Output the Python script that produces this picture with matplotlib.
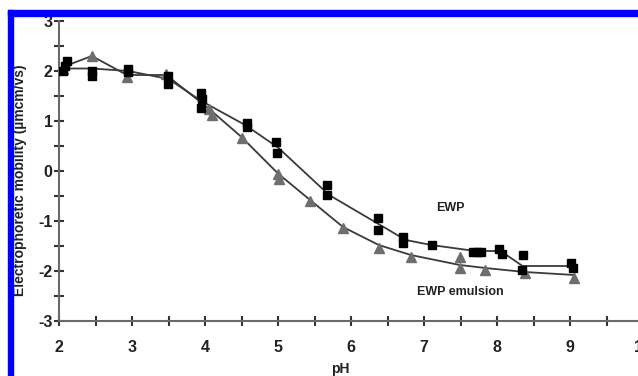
import matplotlib
matplotlib.use("Agg")
import matplotlib.pyplot as plt
from matplotlib.patches import Rectangle
from matplotlib.ticker import MultipleLocator

plt.rcParams["axes.unicode_minus"] = False

# Measured electrophoretic mobility of egg white protein (EWP) and its emulsion
ewp_ph = [2.05, 2.08, 2.11, 2.45, 2.45, 2.95, 2.95, 3.49, 3.49, 3.95, 3.96, 3.95,
          4.57, 4.57, 4.97, 4.98, 5.67, 5.67, 6.37, 6.37, 6.71, 6.71, 7.11,
          7.67, 7.73, 7.78, 8.03, 8.07, 8.35, 8.34, 9.01, 9.04]
ewp_mob = [2.0, 2.1, 2.2, 2.0, 1.9, 2.05, 1.98, 1.9, 1.75, 1.56, 1.45, 1.26,
           0.96, 0.88, 0.58, 0.36, -0.28, -0.48, -0.94, -1.18, -1.32, -1.44, -1.48,
           -1.62, -1.62, -1.62, -1.56, -1.66, -1.68, -1.98, -1.84, -1.94]

emu_ph = [2.05, 2.45, 2.93, 3.47, 4.05, 4.1, 4.5, 5.0, 5.02, 5.44, 5.89,
          6.38, 6.82, 7.49, 7.49, 7.84, 8.38, 9.06]
emu_mob = [2.05, 2.3, 1.88, 1.95, 1.25, 1.12, 0.66, -0.06, -0.16, -0.6, -1.14,
           -1.54, -1.72, -1.72, -1.94, -1.98, -2.04, -2.14]

# Trend lines through the measurements
ewp_fit_ph = [2.05, 2.45, 2.95, 3.5, 3.95, 4.55, 5.0, 5.7, 6.4, 6.75, 7.1,
              7.7, 8.05, 8.35, 9.05]
ewp_fit_mob = [2.05, 2.05, 2.0, 1.84, 1.4, 0.92, 0.47, -0.48, -1.08, -1.38,
               -1.48, -1.6, -1.6, -1.9, -1.9]
emu_fit_ph = [2.05, 2.45, 2.93, 3.47, 4.05, 4.5, 5.0, 5.44, 5.89, 6.38, 6.82,
              7.49, 7.84, 8.38, 9.06]
emu_fit_mob = [2.08, 2.3, 1.92, 1.92, 1.25, 0.68, -0.05, -0.58, -1.12, -1.48,
               -1.68, -1.88, -1.94, -2.02, -2.08]

W, H = 638, 376
fig = plt.figure(figsize=(W / 100, H / 100), dpi=100)
fig.patch.set_facecolor("white")

FONT = ["Liberation Sans Narrow", "Liberation Sans", "DejaVu Sans"]

x0, x1 = 59, 643
y_top, y_bot = 21, 321
ax = fig.add_axes([x0 / W, 1 - y_bot / H, (x1 - x0) / W, (y_bot - y_top) / H])
ax.set_xlim(2, 10)
ax.set_ylim(-3, 3)

line_col = "#3a3a3a"
ax.plot(ewp_fit_ph, ewp_fit_mob, color=line_col, lw=1.3, zorder=2)
ax.plot(emu_fit_ph, emu_fit_mob, color=line_col, lw=1.3, zorder=2)
ax.plot(emu_ph, emu_mob, ls="none", marker="^", ms=7, color="#6e6e6e",
        mec="#6e6e6e", zorder=3)
ax.plot(ewp_ph, ewp_mob, ls="none", marker="s", ms=5.8, color="black",
        mec="black", zorder=4)

axis_col = "#6a6a6a"
for side in ("top", "right"):
    ax.spines[side].set_visible(False)
for side in ("left", "bottom"):
    ax.spines[side].set_color(axis_col)
    ax.spines[side].set_linewidth(1.5)

ax.xaxis.set_major_locator(MultipleLocator(1))
ax.xaxis.set_minor_locator(MultipleLocator(0.5))
ax.yaxis.set_major_locator(MultipleLocator(1))
ax.yaxis.set_minor_locator(MultipleLocator(0.5))
ax.tick_params(which="both", direction="inout", length=7, width=1.5,
               color="#333333")
ax.tick_params(axis="x", pad=10)
ax.tick_params(axis="y", pad=1)
for lab in ax.get_xticklabels() + ax.get_yticklabels():
    lab.set_family(FONT)
    lab.set_fontweight("bold")
    lab.set_fontsize(11.5)
    lab.set_color("#222222")

ax.text(7.36, -0.74, "EWP", ha="center", va="center", fontsize=9,
        fontweight="bold", family=FONT, color="#222222")
ax.text(7.5, -2.42, "EWP emulsion", ha="center", va="center", fontsize=9,
        fontweight="bold", family=FONT, color="#222222")

fig.text(340 / W, 1 - 369 / H, "pH", ha="center", va="center", fontsize=10,
         fontweight="bold", family=FONT, color="#222222")
fig.text(20 / W, 1 - 180 / H, "Electrophoretic mobility (\u00b5mcm/vs)",
         rotation=90, ha="center", va="center", fontsize=10,
         fontweight="bold", family=FONT, color="#222222")

# Blue frame on the top and left edges
fig.patches.append(Rectangle((8 / W, 1 - 16 / H), 1, 6 / H,
                             transform=fig.transFigure, color="#0000ff",
                             zorder=10))
fig.patches.append(Rectangle((8 / W, 0), 5 / W, 1 - 10 / H,
                             transform=fig.transFigure, color="#0000ff",
                             zorder=10))

fig.savefig("out.png", dpi=100)
